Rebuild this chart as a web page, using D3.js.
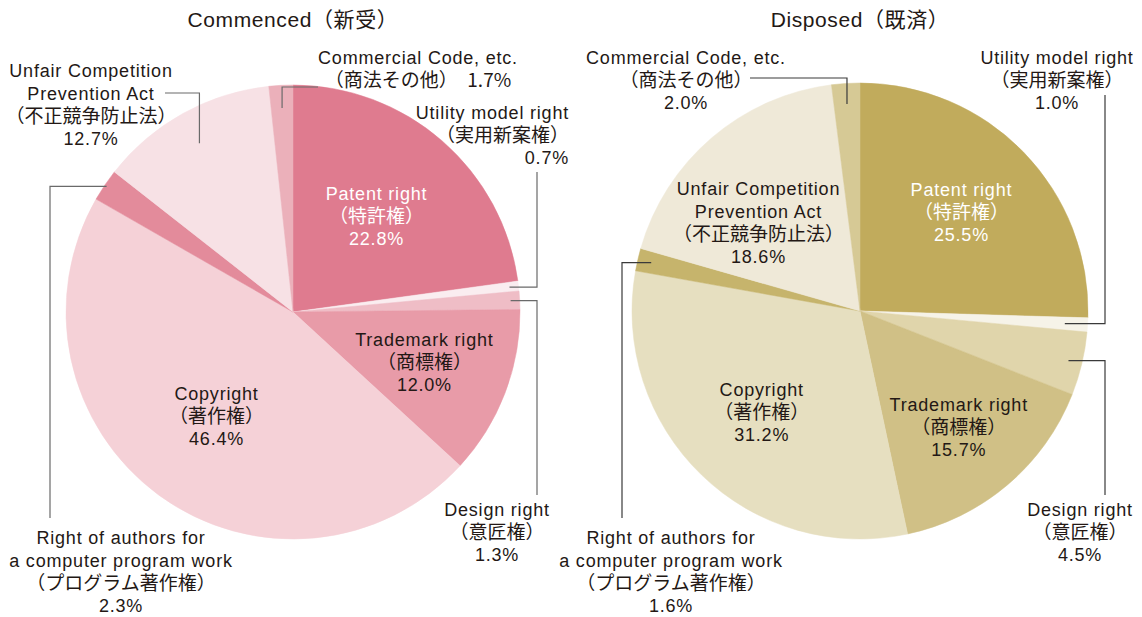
<!DOCTYPE html>
<html>
<head>
<meta charset="utf-8">
<script src="https://cdn.jsdelivr.net/npm/d3@7"></script>
<style>
  body { margin: 0; background: #fff; }
  text { font-family: "Liberation Sans", "Noto Sans CJK JP", sans-serif; fill: #231815; }
  .ja { font-family: "Noto Sans CJK JP", sans-serif; }
</style>
</head>
<body>
<div id="chart"></div>
<script>
// categories (clockwise from 12 o'clock)
const categories = [
  ['Patent right'],
  ['Utility model right'],
  ['Design right'],
  ['Trademark right'],
  ['Copyright'],
  ['Right of authors for', 'a computer program work'],
  ['Unfair Competition', 'Prevention Act'],
  ['Commercial Code, etc.']
]
const categoriesJa = ['特許権', '実用新案権', '意匠権', '商標権', '著作権', 'プログラム著作権', '不正競争防止法', '商法その他']

// shares in %
const commenced = [22.8, 0.7, 1.3, 12.0, 46.4, 2.3, 12.7, 1.7]
const disposed = [25.5, 1.0, 4.5, 15.7, 31.2, 1.6, 18.6, 2.0]

const commencedColors = ['#df7b8f', '#faedf0', '#efbdc6', '#e89ba8', '#f5d1d7', '#e38b9b', '#f7e1e5', '#ebb0ba']
const disposedColors = ['#c1ab5c', '#f6f3e8', '#e0d5ab', '#d0c086', '#e6dfc0', '#c6b46c', '#efe9d8', '#d6c995']

const W = 1142, H = 617
const lineH = 22.5
const pct = d3.format('.1f')

const svg = d3.select('#chart').append('svg')
  .attr('width', W)
  .attr('height', H)

// 每个饼图的布局
const charts = [
  {
    title: 'Commenced（新受）', values: commenced, colors: commencedColors,
    cx: 293, cy: 312, r: 227, lineColor: '#6a6a6a',
    inside: [
      { i: 0, k: 0.56, fill: '#fff' },
      { i: 3, k: 0.62 },
      { i: 4, k: 0.57 }
    ],
    outside: [
      { i: 7, k: 0.9, type: 'v', elbow: 87, end: 318, x: 418, y: 58, anchor: 'middle', join: true },
      { i: 1, k: 0.96, type: 'h', elbow: 537, end: 172, x: 569, y: 113, anchor: 'end' },
      { i: 2, k: 0.96, type: 'h', elbow: 537, end: 495, x: 497, y: 510, anchor: 'middle' },
      { i: 5, k: 0.99, type: 'h', elbow: 50, end: 518, x: 121, y: 538, anchor: 'middle' },
      { i: 6, k: 0.85, type: 'v', elbow: 93, end: 165, x: 91, y: 71, anchor: 'middle' }
    ]
  },
  {
    title: 'Disposed（既済）', values: disposed, colors: disposedColors,
    cx: 860, cy: 311, r: 228, lineColor: '#3a3a3a',
    inside: [
      { i: 0, k: 0.62, fill: '#fff' },
      { i: 3, k: 0.67 },
      { i: 4, k: 0.62 },
      { i: 6, k: 0.59, angle: 311 }
    ],
    outside: [
      { i: 7, k: 0.91, type: 'v', elbow: 78, end: 750, x: 686, y: 58, anchor: 'middle' },
      { i: 1, k: 0.9, type: 'h', elbow: 1105, end: 95, x: 1057, y: 58, anchor: 'middle' },
      { i: 2, k: 0.94, type: 'h', elbow: 1105, end: 495, x: 1080, y: 510, anchor: 'middle' },
      { i: 5, k: 0.94, type: 'h', elbow: 622, end: 518, x: 671, y: 538, anchor: 'middle' }
    ]
  }
]

const pie = d3.pie().sort(null).value(d => d)

const drawLines = (g, x, y, anchor, lines, fill) => {
  const t = g.append('text')
    .attr('text-anchor', anchor)
    .style('font-size', '18px')
  lines.forEach((ln, j) => {
    t.append('tspan')
      .attr('x', x)
      .attr('y', y + j * lineH)
      .attr('dy', '0.35em')
      .attr('class', ln.ja ? 'ja' : null)
      .style('font-size', ln.ja ? '19px' : '18px')
      .style('letter-spacing', ln.ja ? null : '0.8px')
      .style('fill', fill || null)
      .text(ln.text)
  })
}

const labelLines = (i, values, join) => {
  const lines = categories[i].map(s => ({ text: s }))
  const p = pct(values[i]) + '%'
  if (join) {
    lines.push({ text: '（' + categoriesJa[i] + '）　' + p, ja: true })
  } else {
    lines.push({ text: '（' + categoriesJa[i] + '）', ja: true })
    lines.push({ text: p })
  }
  return lines
}

charts.forEach(c => {
  const g = svg.append('g')
  const arcs = pie(c.values)
  const arc = d3.arc().innerRadius(0).outerRadius(c.r)

  // 标题
  g.append('text')
    .attr('x', c.cx)
    .attr('y', 20)
    .attr('dy', '0.35em')
    .attr('text-anchor', 'middle')
    .style('font-size', '21px')
    .style('letter-spacing', '0.6px')
    .text(c.title)

  // 扇区
  g.append('g')
    .attr('transform', `translate(${c.cx},${c.cy})`)
    .selectAll('path')
    .data(arcs)
    .enter().append('path')
    .attr('d', arc)
    .attr('fill', (d, i) => c.colors[i])
    .attr('stroke', (d, i) => c.colors[i])
    .attr('stroke-width', 0.5)

  const pointAt = (d, k, angleDeg) => {
    const a = angleDeg != null ? angleDeg * Math.PI / 180 : (d.startAngle + d.endAngle) / 2
    return [c.cx + Math.sin(a) * k * c.r, c.cy - Math.cos(a) * k * c.r]
  }

  // 扇区内标签
  c.inside.forEach(o => {
    const [x, y] = pointAt(arcs[o.i], o.k, o.angle)
    const lines = labelLines(o.i, c.values, false)
    const y0 = y - (lines.length - 1) * lineH / 2
    drawLines(g, x, y0, 'middle', lines, o.fill)
  })

  // 引出线 + 外部标签
  c.outside.forEach(o => {
    const [x, y] = pointAt(arcs[o.i], o.k)
    const pts = o.type === 'h'
      ? [[x, y], [o.elbow, y], [o.elbow, o.end]]
      : [[x, y], [x, o.elbow], [o.end, o.elbow]]
    g.append('path')
      .attr('d', d3.line()(pts))
      .attr('fill', 'none')
      .attr('stroke', c.lineColor)
      .attr('stroke-width', 1.2)
    drawLines(g, o.x, o.y, o.anchor, labelLines(o.i, c.values, o.join))
  })
})
</script>
</body>
</html>
